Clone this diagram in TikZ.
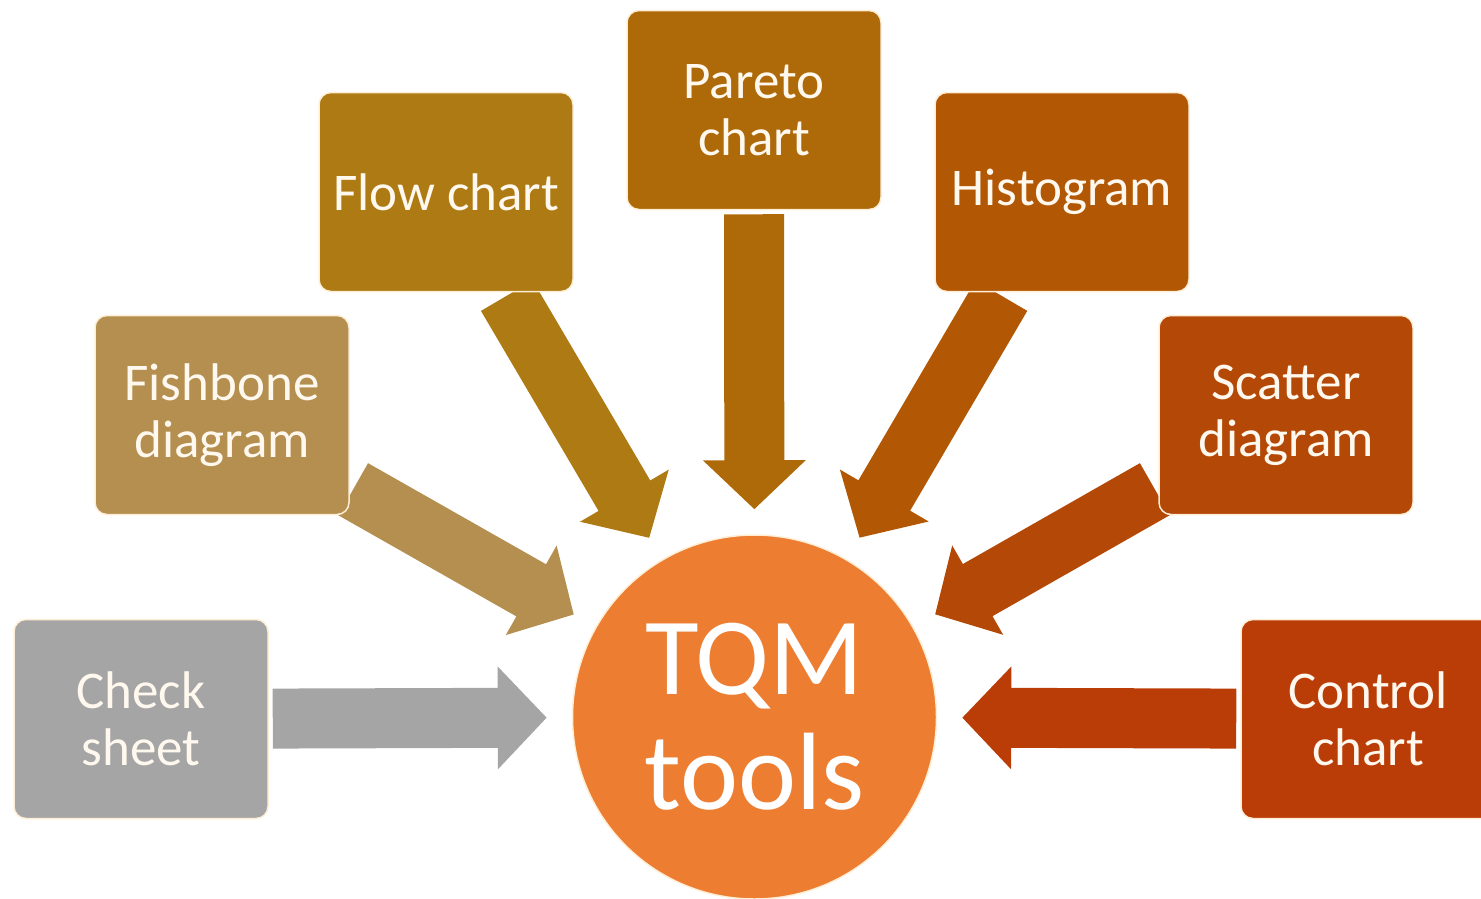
\documentclass[tikz,border=0pt]{standalone}
\usepackage{fontspec}
\setmainfont{Carlito}
\usetikzlibrary{arrows.meta,backgrounds}

\definecolor{checkgray}{RGB}{165,165,165}
\definecolor{fishtan}{RGB}{180,143,80}
\definecolor{flowbrown}{RGB}{173,122,19}
\definecolor{paretobrown}{RGB}{174,106,8}
\definecolor{historange}{RGB}{178,88,4}
\definecolor{scatterorange}{RGB}{180,72,6}
\definecolor{controlred}{RGB}{186,60,6}
\definecolor{tqmorange}{RGB}{237,125,49}
\definecolor{rimcream}{RGB}{255,238,214}
\definecolor{textcream}{RGB}{255,248,238}

\begin{document}
\begin{tikzpicture}[x=1pt, y=-1pt,
    toolbox/.style={rounded corners=12pt, fill=#1, draw=rimcream, line width=1.5pt,
      minimum width=254pt, minimum height=199pt, inner sep=0pt, text=textcream,
      align=center, font=\fontsize{53}{57}\selectfont},
    bigarrow/.style={draw=#1, line width=60pt, -{Triangle[length=49pt, width=100pt]},
      shorten <=4pt, shorten >=25pt}]

        \useasboundingbox (0,0) rectangle (1481,898);
        \clip (0,0) rectangle (1481,898);

        %Centre
        \node [circle, fill=tqmorange, draw=rimcream, line width=1.5pt, minimum size=364pt,
          inner sep=0pt, text=white, align=center, font=\fontsize{110}{115}\selectfont]
          (tqm) at (754.5,717) {TQM\\tools};

        %Tools
        \node [toolbox=checkgray] (check) at (141,719) {Check\\sheet};
        \node [toolbox=fishtan] (fish) at (222,415) {Fishbone\\diagram};
        \node [toolbox=flowbrown] (flow) at (446,192) {Flow chart};
        \node [toolbox=paretobrown] (pareto) at (754,110) {Pareto\\chart};
        \node [toolbox=historange] (hist) at (1062,192) {Histogram};
        \node [toolbox=scatterorange] (scatter) at (1286,415) {Scatter\\diagram};
        \node [toolbox=controlred] (control) at (1368,719) {Control\\chart};

        %Arrows
        \begin{pgfonlayer}{background}
        \draw [bigarrow=checkgray] (check) -- (tqm);
        \draw [bigarrow=fishtan] (fish) -- (tqm);
        \draw [bigarrow=flowbrown] (flow) -- (tqm);
        \draw [bigarrow=paretobrown] (pareto) -- (tqm);
        \draw [bigarrow=historange] (hist) -- (tqm);
        \draw [bigarrow=scatterorange] (scatter) -- (tqm);
        \draw [bigarrow=controlred] (control) -- (tqm);
        \end{pgfonlayer}

      \end{tikzpicture}
\end{document}
